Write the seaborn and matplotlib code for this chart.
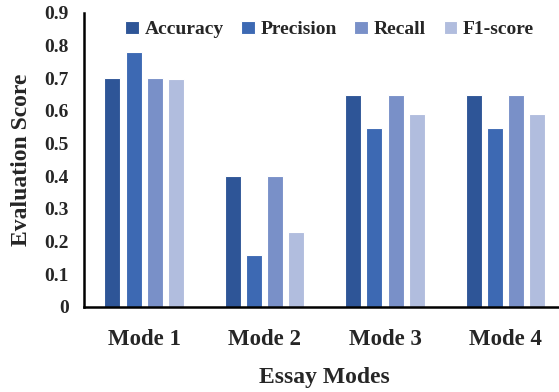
import pandas as pd
import matplotlib.pyplot as plt
import seaborn as sns

modes = ['Mode 1', 'Mode 2', 'Mode 3', 'Mode 4']
metrics = ['Accuracy', 'Precision', 'Recall', 'F1-score']

accuracy = [0.70, 0.40, 0.65, 0.65]
precision = [0.78, 0.16, 0.547, 0.547]
recall = [0.70, 0.40, 0.65, 0.65]
f1_score = [0.698, 0.23, 0.59, 0.59]

color_list = ['#2E5597', '#3D69B3', '#7990C8', '#B1BDDE']

values = accuracy + precision + recall + f1_score
keys = [m for m in metrics for _ in modes]
pre_data = pd.DataFrame({'mode': modes * 4, 'metric': keys, 'value': values})

sns.set_style('white')
plt.rcParams['font.family'] = ['Liberation Serif', 'DejaVu Serif']
plt.rcParams['font.weight'] = 'bold'

fig = plt.figure(figsize=(5.59, 3.92), dpi=100)
ax = fig.add_axes([0.150, 0.217, 0.862, 0.750])

sns.barplot(data=pre_data, x='mode', y='value', hue='metric', palette=color_list,
            saturation=1, width=0.7, gap=0.24, edgecolor='white', linewidth=0.8, ax=ax)

ax.set_ylim(0, 0.9)
ax.set_xlim(-0.5, 3.5)
ax.set_yticks([0, 0.1, 0.2, 0.3, 0.4, 0.5, 0.6, 0.7, 0.8, 0.9])
ax.set_yticklabels(['0', '0.1', '0.2', '0.3', '0.4', '0.5', '0.6', '0.7', '0.8', '0.9'],
                   fontsize=14, fontweight='bold')
ax.set_xticks(range(len(modes)))
ax.set_xticklabels(modes, fontsize=16.5, fontweight='bold')
ax.tick_params(axis='y', length=0, pad=11)
ax.tick_params(axis='x', length=0, pad=16)

for side in ['top', 'right']:
    ax.spines[side].set_visible(False)
for side in ['left', 'bottom']:
    ax.spines[side].set_color('black')
    ax.spines[side].set_linewidth(1.8)

ax.set_xlabel('Essay Modes', fontsize=17, fontweight='bold', labelpad=12)
ax.set_ylabel('Evaluation Score', fontsize=17, fontweight='bold', labelpad=9)

ax.legend(loc='upper center', bbox_to_anchor=(0.51, 1.0), ncol=4, frameon=False,
          prop={'size': 14, 'weight': 'bold'}, handlelength=0.7, handleheight=0.7,
          handletextpad=0.3, columnspacing=0.9, borderaxespad=0)

fig.savefig('out.png', dpi=100)
